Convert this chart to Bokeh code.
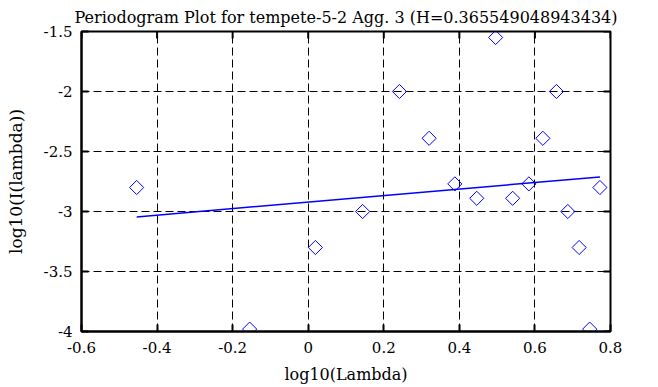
import numpy as np
from bokeh.plotting import figure
from bokeh.models import Range1d, FixedTicker
from bokeh.embed import file_html
from bokeh.resources import INLINE

# ---- data ----
log_lambda = [-0.454, -0.155, 0.019, 0.144, 0.2415, 0.320, 0.388, 0.446, 0.496,
              0.541, 0.584, 0.621, 0.657, 0.687, 0.717, 0.745, 0.772]
log_I = [-2.80, -3.98, -3.30, -3.00, -2.00, -2.39, -2.77, -2.89, -1.55,
         -2.89, -2.77, -2.39, -2.00, -3.00, -3.30, -3.98, -2.80]
fit_x = [-0.454, 0.772]
fit_y = [-3.045, -2.712]

x_ticks = [-0.6, -0.4, -0.2, 0.0, 0.2, 0.4, 0.6, 0.8]
x_tick_labels = ["-0.6", "-0.4", "-0.2", "0", "0.2", "0.4", "0.6", "0.8"]
y_ticks = [-4.0, -3.5, -3.0, -2.5, -2.0, -1.5]
y_tick_labels = ["-4", "-3.5", "-3", "-2.5", "-2", "-1.5"]

title_text = "Periodogram Plot for tempete-5-2 Agg. 3 (H=0.365549048943434)"
FONT = "DejaVu Serif"

p = figure(width=658, height=387, output_backend="svg", toolbar_location=None,
           x_range=Range1d(x_ticks[0], x_ticks[-1]),
           y_range=Range1d(y_ticks[0], y_ticks[-1]),
           min_border_left=81, min_border_right=48, min_border_top=31,
           min_border_bottom=56, x_axis_label="log10(Lambda)",
           y_axis_label="log10(I(lambda))")

p.title.text = title_text
p.title.align = "center"
p.title.text_font = FONT
p.title.text_font_size = "16px"
p.title.text_font_style = "normal"
p.title.text_color = "black"
p.title.offset = 0
p.title.standoff = 10

xt = FixedTicker(ticks=x_ticks)
yt = FixedTicker(ticks=y_ticks)

for ax, tk in ((p.xaxis[0], xt), (p.yaxis[0], yt)):
    ax.ticker = tk
    ax.major_tick_in = 7
    ax.major_tick_out = 0
    ax.minor_tick_line_color = None
    ax.major_tick_line_width = 2
    ax.axis_line_width = 2
    ax.major_label_text_font = FONT
    ax.major_label_text_font_size = "15px"
    ax.axis_label_text_font = FONT
    ax.axis_label_text_font_size = "16px"
    ax.axis_label_text_font_style = "normal"
    ax.major_label_text_color = "black"
    ax.axis_label_text_color = "black"

p.yaxis[0].axis_label_text_font_size = "17px"
p.xaxis[0].major_label_overrides = dict(zip(x_ticks, x_tick_labels))
p.yaxis[0].major_label_overrides = dict(zip(y_ticks, y_tick_labels))
p.xaxis[0].major_label_standoff = 10
p.xaxis[0].axis_label_standoff = 9
p.yaxis[0].major_label_standoff = 9
p.yaxis[0].axis_label_standoff = 15

p.xgrid.ticker = xt
p.ygrid.ticker = yt
for g in (p.xgrid[0], p.ygrid[0]):
    g.grid_line_color = "black"
    g.grid_line_dash = "8 4"
    g.grid_line_width = 1
    g.grid_line_alpha = 1.0

p.outline_line_color = "black"
p.outline_line_width = 2
p.outline_line_alpha = 1.0

# mirrored inward ticks on the top and right frame edges (clipped to frame)
p.scatter(x_ticks, [y_ticks[-1]] * len(x_ticks), marker="dash", angle=np.pi / 2,
          size=14, line_color="black", line_width=2)
p.scatter([x_ticks[-1]] * len(y_ticks), y_ticks, marker="dash",
          size=14, line_color="black", line_width=2)

p.line(fit_x, fit_y, line_color="blue", line_width=1.5)
p.scatter(log_lambda, log_I, marker="square", angle=np.pi / 4, size=10,
          fill_color=None, line_color="blue", line_width=1)

open("out.html", "w").write(file_html(p, INLINE))
